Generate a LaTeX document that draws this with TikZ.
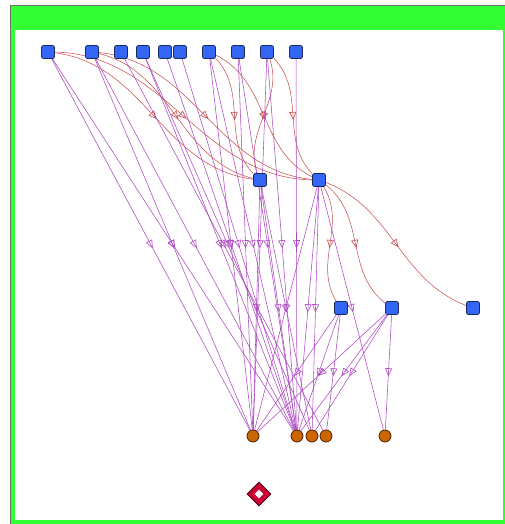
\documentclass[tikz,border=0pt]{standalone}
\usetikzlibrary{arrows.meta,decorations.markings,shapes.geometric}
\definecolor{gr}{HTML}{33FF33}
\definecolor{nodeblue}{HTML}{3366F5}
\definecolor{navy}{HTML}{1A2A60}
\definecolor{orng}{HTML}{CC6600}
\definecolor{brn}{HTML}{4A2200}
\definecolor{dred}{HTML}{CC0033}
\definecolor{dborder}{HTML}{3A0010}
\definecolor{purp}{HTML}{AE48C2}
\definecolor{redge}{HTML}{C84848}
\definecolor{frameline}{HTML}{707070}
\pgfdeclarelayer{bg}
\pgfdeclarelayer{edges}
\pgfsetlayers{bg,edges,main}
\begin{document}
\begin{tikzpicture}[x=1pt,y=1pt,
  sq/.style={draw=navy, fill=nodeblue, rounded corners=2pt, minimum size=13pt, inner sep=0pt, line width=0.8pt},
  cir/.style={circle, draw=brn, fill=orng, minimum size=12pt, inner sep=0pt, line width=0.8pt},
  midarrow/.style={postaction={decorate}, decoration={markings, mark=at position 0.5 with {\arrow[xshift=4pt,line width=0.6pt]{Triangle[open,length=8pt,width=7pt]}}}},
  pe/.style={purp, line width=0.55pt, midarrow},
  re/.style={redge, line width=0.5pt, midarrow},
  scurve/.style={out=25, in=205, relative}
]
\useasboundingbox (0,0) rectangle (505,-524);
% nodes
\node[sq] (t1) at (48,-52) {};
\node[sq] (t2) at (92,-52) {};
\node[sq] (t3) at (121,-52) {};
\node[sq] (t4) at (143,-52) {};
\node[sq] (t5) at (165,-52) {};
\node[sq] (t6) at (180,-52) {};
\node[sq] (t7) at (209,-52) {};
\node[sq] (t8) at (238,-52) {};
\node[sq] (t9) at (267,-52) {};
\node[sq] (t10) at (296,-52) {};
\node[sq] (m1) at (260,-180) {};
\node[sq] (m2) at (319,-180) {};
\node[sq] (r1) at (341,-308) {};
\node[sq] (r2) at (392,-308) {};
\node[sq] (r3) at (473,-308) {};
\node[cir] (b1) at (253,-436) {};
\node[cir] (b2) at (297,-436) {};
\node[cir] (b3) at (312,-436) {};
\node[cir] (b4) at (326,-436) {};
\node[cir] (b5) at (385,-436) {};
\node[diamond, draw=dborder, fill=dred, minimum size=24pt, inner sep=0pt, line width=0.8pt] (d) at (259,-494) {};
\node[diamond, fill=white, minimum size=9pt, inner sep=0pt] (dinner) at (d.center) {};
% frame
\begin{pgfonlayer}{bg}
  \fill[gr] (10,-5) rectangle (505,-524);
  \draw[frameline, line width=0.8pt] (10,-524) -- (10,-5) -- (505,-5);
  \fill[white] (15,-30) rectangle (503,-520);
\end{pgfonlayer}
% edges
\begin{pgfonlayer}{edges}
  % red curved edges
  \draw[re] (t1) to[scurve] (m1);
  \draw[re] (t1) to[scurve] (m2);
  \draw[re] (t2) to[scurve] (m1);
  \draw[re] (t2) to[scurve] (m2);
  \draw[re] (t7) to[scurve] (m1);
  \draw[re] (t7) to[scurve] (m2);
  \draw[re] (t9) to[scurve] (m1);
  \draw[re] (t9) to[scurve] (m2);
  \draw[re] (m2) to[scurve] (r1);
  \draw[re] (m2) to[scurve] (r2);
  \draw[re] (m2) to[out=20, in=200, relative] (r3);
  % purple top -> bottom
  \draw[pe] (t1) -- (b1);
  \draw[pe] (t1) -- (b2);
  \draw[pe] (t2) -- (b1);
  \draw[pe] (t2) -- (b2);
  \draw[pe] (t3) -- (b4);
  \draw[pe] (t4) -- (b2);
  \draw[pe] (t4) -- (b3);
  \draw[pe] (t5) -- (b2);
  \draw[pe] (t6) -- (b2);
  \draw[pe] (t7) -- (b1);
  \draw[pe] (t7) -- (b2);
  \draw[pe] (t8) -- (b1);
  \draw[pe] (t8) -- (b2);
  \draw[pe] (t9) -- (b1);
  \draw[pe] (t9) -- (b2);
  \draw[pe] (t10) -- (b2);
  % purple middle -> bottom
  \draw[pe] (m1) -- (b1);
  \draw[pe] (m1) -- (b2);
  \draw[pe] (m1) -- (b3);
  \draw[pe] (m2) -- (b1);
  \draw[pe] (m2) -- (b2);
  \draw[pe] (m2) -- (b3);
  \draw[pe] (m2) -- (b5);
  % purple row3 -> bottom
  \draw[pe] (r1) -- (b1);
  \draw[pe] (r1) -- (b2);
  \draw[pe] (r1) -- (b4);
  \draw[pe] (r2) -- (b1);
  \draw[pe] (r2) -- (b2);
  \draw[pe] (r2) -- (b3);
  \draw[pe] (r2) -- (b5);
\end{pgfonlayer}
\end{tikzpicture}
\end{document}
